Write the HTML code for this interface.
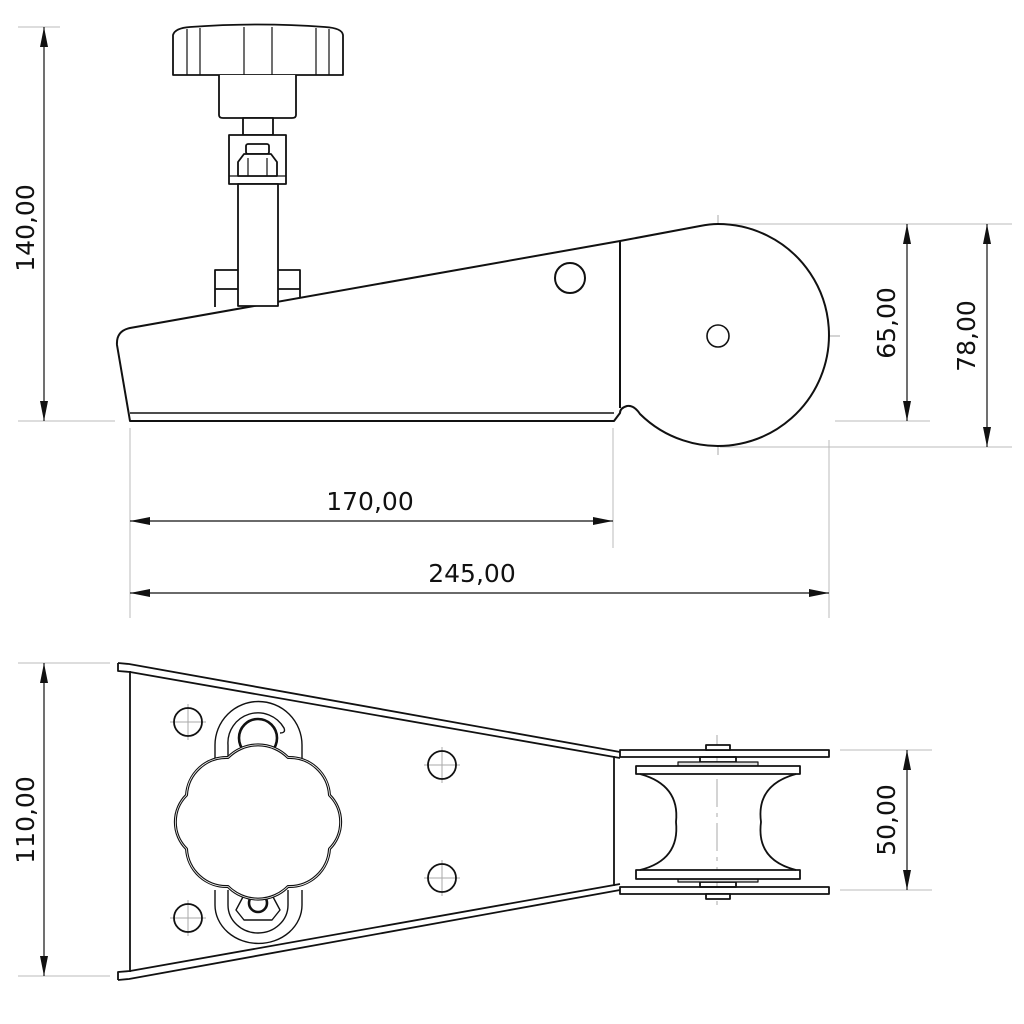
<!DOCTYPE html>
<html><head><meta charset="utf-8"><style>
html,body{margin:0;padding:0;background:#fff}
svg{display:block}
text{font-family:"DejaVu Sans","Liberation Sans",sans-serif;font-size:25px;fill:#111}
</style></head><body>
<svg width="1024" height="1024" viewBox="0 0 1024 1024" xmlns="http://www.w3.org/2000/svg">
<defs>
<marker id="a" viewBox="0 0 20 8" refX="20" refY="4" markerWidth="20" markerHeight="8" markerUnits="userSpaceOnUse" orient="auto-start-reverse"><path d="M0,0 L20,4 L0,8 z" fill="#111"/></marker>
</defs>
<g stroke="#bbb" stroke-width="1" fill="none">
<line x1="18" y1="421" x2="115" y2="421"/>
<line x1="18" y1="27" x2="60" y2="27"/>
<line x1="130" y1="428" x2="130" y2="618"/>
<line x1="613" y1="428" x2="613" y2="548"/>
<line x1="829" y1="440" x2="829" y2="618"/>
<line x1="720" y1="224" x2="1012" y2="224"/>
<line x1="720" y1="447" x2="1012" y2="447"/>
<line x1="835" y1="421" x2="930" y2="421"/>
<line x1="18" y1="663" x2="110" y2="663"/>
<line x1="18" y1="976" x2="110" y2="976"/>
<line x1="840" y1="750" x2="932" y2="750"/>
<line x1="840" y1="890" x2="932" y2="890"/>
</g>
<g stroke="#aaa" stroke-width="1" fill="none" stroke-dasharray="28,6,4,6">
<line x1="605" y1="336" x2="840" y2="336"/>
<line x1="718" y1="215" x2="718" y2="455"/>
<line x1="717" y1="735" x2="717" y2="905"/>
</g>
<g stroke="#aaa" stroke-width="1">
<line x1="170" y1="722" x2="206" y2="722"/><line x1="188" y1="704" x2="188" y2="740"/>
<line x1="170" y1="918" x2="206" y2="918"/><line x1="188" y1="900" x2="188" y2="936"/>
<line x1="424" y1="765" x2="460" y2="765"/><line x1="442" y1="747" x2="442" y2="783"/>
<line x1="424" y1="878" x2="460" y2="878"/><line x1="442" y1="860" x2="442" y2="896"/>
</g>
<g stroke="#111" stroke-width="1.2" fill="none">
<line x1="44" y1="27" x2="44" y2="421" marker-start="url(#a)" marker-end="url(#a)"/>
<line x1="907" y1="224" x2="907" y2="421" marker-start="url(#a)" marker-end="url(#a)"/>
<line x1="987" y1="224" x2="987" y2="447" marker-start="url(#a)" marker-end="url(#a)"/>
<line x1="130" y1="521" x2="613" y2="521" marker-start="url(#a)" marker-end="url(#a)"/>
<line x1="130" y1="593" x2="829" y2="593" marker-start="url(#a)" marker-end="url(#a)"/>
<line x1="44" y1="663" x2="44" y2="976" marker-start="url(#a)" marker-end="url(#a)"/>
<line x1="907" y1="750" x2="907" y2="890" marker-start="url(#a)" marker-end="url(#a)"/>
</g>
<text x="370" y="510" text-anchor="middle">170,00</text>
<text x="472" y="582" text-anchor="middle">245,00</text>
<text transform="translate(34,228) rotate(-90)" text-anchor="middle">140,00</text>
<text transform="translate(895,323) rotate(-90)" text-anchor="middle">65,00</text>
<text transform="translate(975,336) rotate(-90)" text-anchor="middle">78,00</text>
<text transform="translate(34,820) rotate(-90)" text-anchor="middle">110,00</text>
<text transform="translate(895,820) rotate(-90)" text-anchor="middle">50,00</text>

<g stroke="#111" stroke-width="2" fill="none" stroke-linejoin="round">
<path d="M130,421 L117,345 Q116,331 130,328 L620,241 L700,226 Q710,224 718,224 A111,111 0 1 1 640,414 Q634,405 627,406 Q620,408 620,413 L614,421 Z" fill="#fff"/>
<line x1="620" y1="241" x2="620" y2="408"/>
<line x1="130" y1="413" x2="614" y2="413" stroke-width="1.4"/>
<circle cx="570" cy="278" r="15"/>
<circle cx="718" cy="336" r="11" stroke-width="1.6"/>
<g stroke-width="1.8">
<path d="M173,35 Q175,28 190,27 Q258,22 325,27 Q342,28 343,35 L343,75 L173,75 Z" fill="#fff"/>
<line x1="187" y1="29" x2="187" y2="75" stroke-width="1.2"/>
<line x1="200" y1="28" x2="200" y2="75" stroke-width="1.2"/>
<line x1="244" y1="27" x2="244" y2="75" stroke-width="1.2"/>
<line x1="272" y1="27" x2="272" y2="75" stroke-width="1.2"/>
<line x1="316" y1="28" x2="316" y2="75" stroke-width="1.2"/>
<line x1="329" y1="29" x2="329" y2="75" stroke-width="1.2"/>
<path d="M219,75 L219,115 Q219,118 223,118 L292,118 Q296,118 296,115 L296,75" fill="#fff"/>
<rect x="243" y="118" width="30" height="17" fill="#fff"/>
<rect x="229" y="135" width="57" height="49" fill="#fff"/>
<line x1="229" y1="176" x2="286" y2="176" stroke-width="1.2"/>
<rect x="246" y="144" width="23" height="10" rx="2"/>
<path d="M244,154 L271,154 L277,162 L277,176 L238,176 L238,162 Z" fill="#fff"/>
<line x1="248" y1="158" x2="248" y2="176" stroke-width="1.2"/>
<line x1="267" y1="158" x2="267" y2="176" stroke-width="1.2"/>
<rect x="238" y="184" width="40" height="122" fill="#fff"/>
<path d="M215,307 L215,270 L238,270 M215,289 L238,289"/>
<path d="M278,270 L300,270 L300,297 M278,289 L300,289"/>
</g>
</g>

<g stroke="#111" stroke-width="1.8" fill="none" stroke-linejoin="round">
<path d="M118,663 L129,664 L620,752 M118,663 L118,671 L130,672 L620,758"/>
<path d="M118,980 L129,979 L620,890 M118,980 L118,972 L130,971 L620,884"/>
<line x1="130" y1="671" x2="130" y2="972"/>
<line x1="614" y1="756" x2="614" y2="886"/>
<rect x="620" y="750" width="209" height="7" fill="#fff"/>
<rect x="620" y="887" width="209" height="7" fill="#fff"/>
<rect x="706" y="745" width="24" height="5" fill="#fff"/>
<rect x="706" y="894" width="24" height="5" fill="#fff"/>
<rect x="700" y="757" width="36" height="5"/>
<rect x="700" y="882" width="36" height="5"/>
<rect x="678" y="762" width="80" height="4" fill="#ddd" stroke-width="1.2"/>
<rect x="678" y="878" width="80" height="4" fill="#ddd" stroke-width="1.2"/>
<rect x="636" y="766" width="164" height="8" fill="#fff"/>
<rect x="636" y="870" width="164" height="9" fill="#fff"/>
<path d="M640,774 Q680,785 676,822 Q680,860 640,870"/>
<path d="M796,774 Q756,785 761,822 Q756,860 796,870"/>
<circle cx="188" cy="722" r="14"/>
<circle cx="188" cy="918" r="14"/>
<circle cx="442" cy="765" r="14"/>
<circle cx="442" cy="878" r="14"/>
<path d="M215,760 L215,745 A43,43 0 0 1 302,745 L302,760" stroke-width="1.4"/>
<path d="M228,760 L228,745 A30,30 0 0 1 284,728 Q286,733 280,733" stroke-width="1.4"/>
<circle cx="258" cy="738" r="19" stroke-width="2.6"/>
<path d="M215,890 L215,905 A43,38 0 0 0 302,905 L302,890" stroke-width="1.4"/>
<path d="M228,890 L228,905 A30,28 0 0 0 288,905 L288,890" stroke-width="1.4"/>
<path d="M244,895 L272,895 L280,910 L272,920 L244,920 L236,910 Z" stroke-width="1.4"/>
<circle cx="258" cy="903" r="9" stroke-width="2.6"/>
<path d="M329.5,848.9 A40,40 0 0 1 288,886.5 A42,42 0 0 1 228,886.5 A40,40 0 0 1 186.5,848.9 A38,38 0 0 1 186.5,795.1 A40,40 0 0 1 228,757.5 A42,42 0 0 1 288,757.5 A40,40 0 0 1 329.5,795.1 A38,38 0 0 1 329.5,848.9 Z" fill="#fff" stroke-width="3"/>
<path d="M329.5,848.9 A40,40 0 0 1 288,886.5 A42,42 0 0 1 228,886.5 A40,40 0 0 1 186.5,848.9 A38,38 0 0 1 186.5,795.1 A40,40 0 0 1 228,757.5 A42,42 0 0 1 288,757.5 A40,40 0 0 1 329.5,795.1 A38,38 0 0 1 329.5,848.9 Z" stroke="#fff" stroke-width="0.8"/>
</g>
</svg>
</body></html>
